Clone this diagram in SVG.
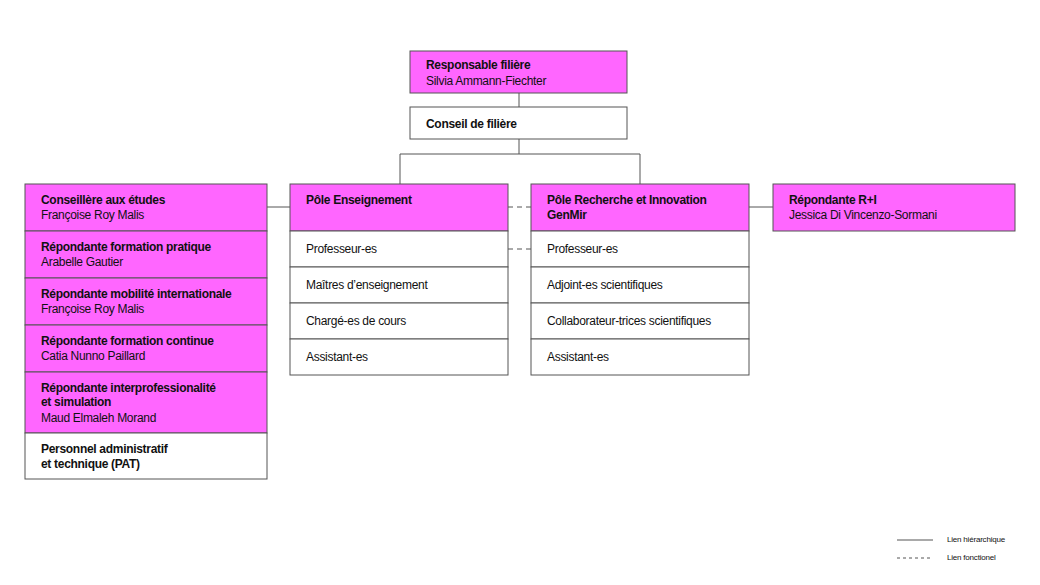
<svg xmlns="http://www.w3.org/2000/svg" width="1040" height="585" viewBox="0 0 1040 585">
<style>
.m{fill:#ff66ff;stroke:#555;stroke-width:1}
.w{fill:#fff;stroke:#555;stroke-width:1}
text{font-family:"Liberation Sans",Arial,sans-serif;font-size:12px;fill:#111;letter-spacing:-0.3px}
.b{font-weight:bold}
.l{stroke:#555;stroke-width:1;fill:none}
.d{stroke:#555;stroke-width:1;fill:none;stroke-dasharray:5 4}
.s{font-size:8px;letter-spacing:-0.2px}
</style>
<rect width="1040" height="585" fill="#fff"/>
<g id="connectors">
<path class="l" d="M519 93V107M519 139V154M400 154H640M400 154V184M640 154V184M267 207H290M749 207H773"/>
<path class="d" d="M508 207H531M508 249H531"/>
</g>
<g id="responsable"><rect class="m" x="410" y="51" width="217" height="42"/><text class="b" x="426" y="69">Responsable filière</text><text x="426" y="85">Silvia Ammann-Fiechter</text></g>
<g id="conseil"><rect class="w" x="410" y="107" width="217" height="32"/><text class="b" x="426" y="128">Conseil de filière</text></g>
<g id="left">
<rect class="m" x="25" y="184" width="242" height="47"/><text class="b" x="41" y="204">Conseillère aux études</text><text x="41" y="219">Françoise Roy Malis</text>
<rect class="m" x="25" y="231" width="242" height="47"/><text class="b" x="41" y="251">Répondante formation pratique</text><text x="41" y="266">Arabelle Gautier</text>
<rect class="m" x="25" y="278" width="242" height="47"/><text class="b" x="41" y="298">Répondante mobilité internationale</text><text x="41" y="313">Françoise Roy Malis</text>
<rect class="m" x="25" y="325" width="242" height="47"/><text class="b" x="41" y="345">Répondante formation continue</text><text x="41" y="360">Catia Nunno Paillard</text>
<rect class="m" x="25" y="372" width="242" height="61"/><text class="b" x="41" y="392">Répondante interprofessionalité</text><text class="b" x="41" y="406">et simulation</text><text x="41" y="422">Maud Elmaleh Morand</text>
<rect class="w" x="25" y="433" width="242" height="46"/><text class="b" x="41" y="453">Personnel administratif</text><text class="b" x="41" y="468">et technique (PAT)</text>
</g>
<g id="pole-enseignement">
<rect class="m" x="290" y="184" width="218" height="47"/><text class="b" x="306" y="204">Pôle Enseignement</text>
<rect class="w" x="290" y="231" width="218" height="36"/><text x="306" y="253">Professeur-es</text>
<rect class="w" x="290" y="267" width="218" height="36"/><text x="306" y="289">Maîtres d’enseignement</text>
<rect class="w" x="290" y="303" width="218" height="36"/><text x="306" y="325">Chargé-es de cours</text>
<rect class="w" x="290" y="339" width="218" height="36"/><text x="306" y="361">Assistant-es</text>
</g>
<g id="pole-recherche">
<rect class="m" x="531" y="184" width="218" height="47"/><text class="b" x="547" y="204">Pôle Recherche et Innovation</text><text class="b" x="547" y="219">GenMir</text>
<rect class="w" x="531" y="231" width="218" height="36"/><text x="547" y="253">Professeur-es</text>
<rect class="w" x="531" y="267" width="218" height="36"/><text x="547" y="289">Adjoint-es scientifiques</text>
<rect class="w" x="531" y="303" width="218" height="36"/><text x="547" y="325">Collaborateur-trices scientifiques</text>
<rect class="w" x="531" y="339" width="218" height="36"/><text x="547" y="361">Assistant-es</text>
</g>
<g id="repondante-ri"><rect class="m" x="773" y="184" width="242" height="47"/><text class="b" x="789" y="204">Répondante R+I</text><text x="789" y="219">Jessica Di Vincenzo-Sormani</text></g>
<g id="legend">
<line class="l" x1="897" y1="540" x2="933" y2="540"/><text class="s" x="947" y="542">Lien hiérarchique</text>
<line class="d" x1="897" y1="558" x2="933" y2="558" style="stroke-dasharray:3 3"/><text class="s" x="947" y="560">Lien fonctionel</text>
</g>
</svg>
